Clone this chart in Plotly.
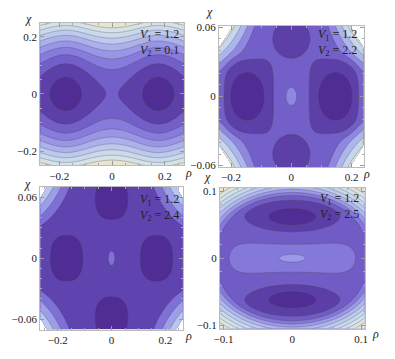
import numpy as np
import plotly.graph_objects as go

W, H = 395, 359

# ---- panel parameters ----
V1_values = [1.2, 1.2, 1.2, 1.2]
V2_values = [0.1, 2.2, 2.4, 2.5]
rho_ranges = [0.272, 0.24, 0.265, 0.105]
chi_ranges = [0.25, 0.0615, 0.07, 0.105]
rho_ticks = [[-0.2, 0, 0.2], [-0.2, 0, 0.2], [-0.2, 0, 0.2], [-0.1, 0, 0.1]]
chi_ticks = [[-0.2, 0, 0.2], [-0.06, 0, 0.06], [-0.06, 0, 0.06], [-0.1, 0, 0.1]]
rho_ticklabels = [["−0.2", "0", "0.2"], ["−0.2", "0", "0.2"], ["−0.2", "0", "0.2"], ["−0.1", "0", "0.1"]]
chi_ticklabels = [["−0.2", "0", "0.2"], ["−0.06", "0", "0.06"], ["−0.06", "0", "0.06"], ["−0.1", "0", "0.1"]]
rho_minor = [0.05, 0.05, 0.05, 0.02]
chi_minor = [0.05, 0.01, 0.01, 0.02]
level_start = [0.4, 0.5, 0.5, 0.5]
level_size = [0.9, 1.0, 1.0, 1.0]
level_end = [7.6, 5.5, 4.5, 9.5]

band_colors = [
    ['#4f2d95', '#6850b8', '#7e6ed8', '#9088e4', '#a3a3ea', '#b5bfee', '#c4d4ee', '#cfdfea', '#dbe5e2', '#eae4ce'],
    ['#4f2d95', '#6850b8', '#7e6ed8', '#a0a0ea', '#bacbee', '#d2e1ea', '#e8e2cd'],
    ['#4f2d95', '#6e58c8', '#9088e4', '#aab4ee', '#c6daec', '#e8e2cd'],
    ['#4f2d95', '#6650b6', '#7a68d2', '#9088e4', '#a8aaee', '#b6c4ee', '#c2d2ee', '#ccdeec', '#d6e3e6', '#e0e5dc', '#eae4ce'],
]

# frames in pixels (x0, y0, x1, y1)
frames = [(35, 19, 182, 165), (218, 22, 366, 167), (35, 187, 181, 333), (219, 188, 367, 332)]
chi_label_pos = [(23, 15), (208, 8), (22, 184), (206, 177)]
rho_label_pos = [(187, 173), (369, 174), (187, 340), (378, 338)]
v_label_pos = [(179, 21), (361, 21), (179, 190), (363, 189)]

N = 241


def well(R, C, r0, c0, sr, sc, depth, p=2.0, k=2.0):
    r = (np.abs((R - r0) / sr) ** p + np.abs((C - c0) / sc) ** p) ** (1.0 / p)
    return -depth * np.exp(-r ** k)


def softplus(x, w):
    return w * np.log1p(np.exp(np.clip(x / w, -50, 50)))


def field(i):
    rr, cc = rho_ranges[i], chi_ranges[i]
    rho = np.linspace(-rr, rr, N)
    chi = np.linspace(-cc, cc, N)
    R, C = np.meshgrid(rho, chi)
    if i == 0:
        u = R / 0.175
        V = 1.35 * (u ** 2 - 1) ** 2 / (1 + 0.35 * u ** 4) + C ** 2 / 0.0086
    elif i == 1:
        V = 2.0 + 0 * R
        for s in (-1, 1):
            V += well(R, C, s * 0.14, 0, 0.0838, 0.0335, 1.0, p=4, k=8)
            V += well(R, C, s * 0.147, 0, 0.0625, 0.023, 1.0, p=2, k=4)
            V += well(R, C, 0, s * 0.05, 0.074, 0.0204, 1.0, p=2, k=2)
        V += 0.8 * np.exp(-(R / 0.026) ** 2 - (C / 0.0117) ** 2)
        X, Y = np.abs(R) / 0.24, np.abs(C) / 0.062
        T = X ** 1.5 * Y
        V += softplus(T - 0.30, 0.03) / 0.11
        out = 0.315 * (X - 0.806) + 0.194 * (Y - 1) > 0
        V[out] = np.nan
    elif i == 2:
        V = 1.0 + 0 * R
        for s in (-1, 1):
            V += well(R, C, s * 0.167, 0, 0.0586, 0.022, 1.5, p=2.5, k=4)
            V += well(R, C, 0, s * 0.058, 0.0586, 0.0195, 1.5, p=2.5, k=4)
        V += 0.8 * np.exp(-(R / 0.0175) ** 2 - (C / 0.0102) ** 2)
        X, Y = np.abs(R) / 0.265, np.abs(C) / 0.07
        T = X ** 1.5 * Y
        V += softplus(T - 0.383, 0.03) / 0.14
        out = 0.16 * (X - 0.91) + 0.09 * (Y - 1) > 0
        V[out] = np.nan
    else:
        V = 2.0 + 0 * R
        for s in (-1, 1):
            V += well(R, C, 0, s * 0.061, 0.0616, 0.0222, 2.2, p=2, k=2)
        V += 0.7 * np.exp(-((R / 0.11) ** 6 + (C / 0.0466) ** 2))
        V += 1.2 * np.exp(-(R / 0.03) ** 2 - (C / 0.0094) ** 2)
        S = np.sqrt((R / 0.125) ** 2 + (C / 0.1) ** 2)
        V += softplus(S - 0.9, 0.02) / 0.05
    return rho, chi, V


def stepped_scale(colors):
    nc = len(colors) - 1  # number of contour levels
    scale = [[0.0, colors[0]]]
    for j, col in enumerate(colors):
        pos = min((j + 0.5) / nc, 1.0)
        scale.append([pos, col])
    if scale[-1][0] < 1.0:
        scale.append([1.0, colors[-1]])
    return scale


fig = go.Figure()
SERIF = 'Liberation Serif, Times New Roman, serif'
axis_font = dict(family=SERIF, size=11, color='#222')

for i in range(4):
    rho, chi, V = field(i)
    xa = 'x' if i == 0 else f'x{i + 1}'
    ya = 'y' if i == 0 else f'y{i + 1}'
    fig.add_trace(go.Contour(
        x=rho, y=chi, z=V, xaxis=xa, yaxis=ya,
        autocontour=False,
        contours=dict(start=level_start[i], end=level_end[i], size=level_size[i], coloring='fill'),
        colorscale=stepped_scale(band_colors[i]), showscale=False,
        line=dict(color='rgba(70,70,70,0.5)', width=0.6),
        connectgaps=False, hoverinfo='skip'))
    x0, y0, x1, y1 = frames[i]
    xd = [x0 / W, x1 / W]
    yd = [1 - y1 / H, 1 - y0 / H]
    key = '' if i == 0 else str(i + 1)
    common = dict(showline=True, linecolor='#bbbbbb', linewidth=1, mirror='allticks',
                  ticks='inside', ticklen=4, tickcolor='#999', showgrid=False, zeroline=False,
                  tickfont=axis_font)
    fig.layout['xaxis' + key] = dict(domain=xd, range=[-rho_ranges[i], rho_ranges[i]],
                                     tickvals=rho_ticks[i], ticktext=rho_ticklabels[i],
                                     minor=dict(dtick=rho_minor[i], tick0=0, ticklen=2, ticks='inside', tickcolor='#aaa'),
                                     anchor=ya, **common)
    fig.layout['yaxis' + key] = dict(domain=yd, range=[-chi_ranges[i], chi_ranges[i]],
                                     tickvals=chi_ticks[i], ticktext=chi_ticklabels[i],
                                     minor=dict(dtick=chi_minor[i], tick0=0, ticklen=2, ticks='inside', tickcolor='#aaa'),
                                     anchor=xa, **common)
    vx, vy = v_label_pos[i]
    fig.add_annotation(xref='paper', yref='paper', x=vx / W, y=1 - vy / H,
                       xanchor='right', yanchor='top', showarrow=False, align='left',
                       text=f"<i>V</i><sub>1</sub> = {V1_values[i]}<br><i>V</i><sub>2</sub> = {V2_values[i]}",
                       font=dict(family=SERIF, size=12, color='#222'))
    cx, cy = chi_label_pos[i]
    fig.add_annotation(xref='paper', yref='paper', x=cx / W, y=1 - cy / H,
                       xanchor='center', yanchor='middle', showarrow=False, text='<i>χ</i>',
                       font=dict(family=SERIF, size=12, color='#222'))
    rx, ry = rho_label_pos[i]
    fig.add_annotation(xref='paper', yref='paper', x=rx / W, y=1 - ry / H,
                       xanchor='center', yanchor='middle', showarrow=False, text='<i>ρ</i>',
                       font=dict(family=SERIF, size=12, color='#222'))

fig.update_layout(width=W, height=H, margin=dict(l=0, r=0, t=0, b=0),
                  paper_bgcolor='white', plot_bgcolor='white', showlegend=False)
fig.write_html('out.html', config={'displayModeBar': False},
               post_script="document.body.style.margin='0px';")
